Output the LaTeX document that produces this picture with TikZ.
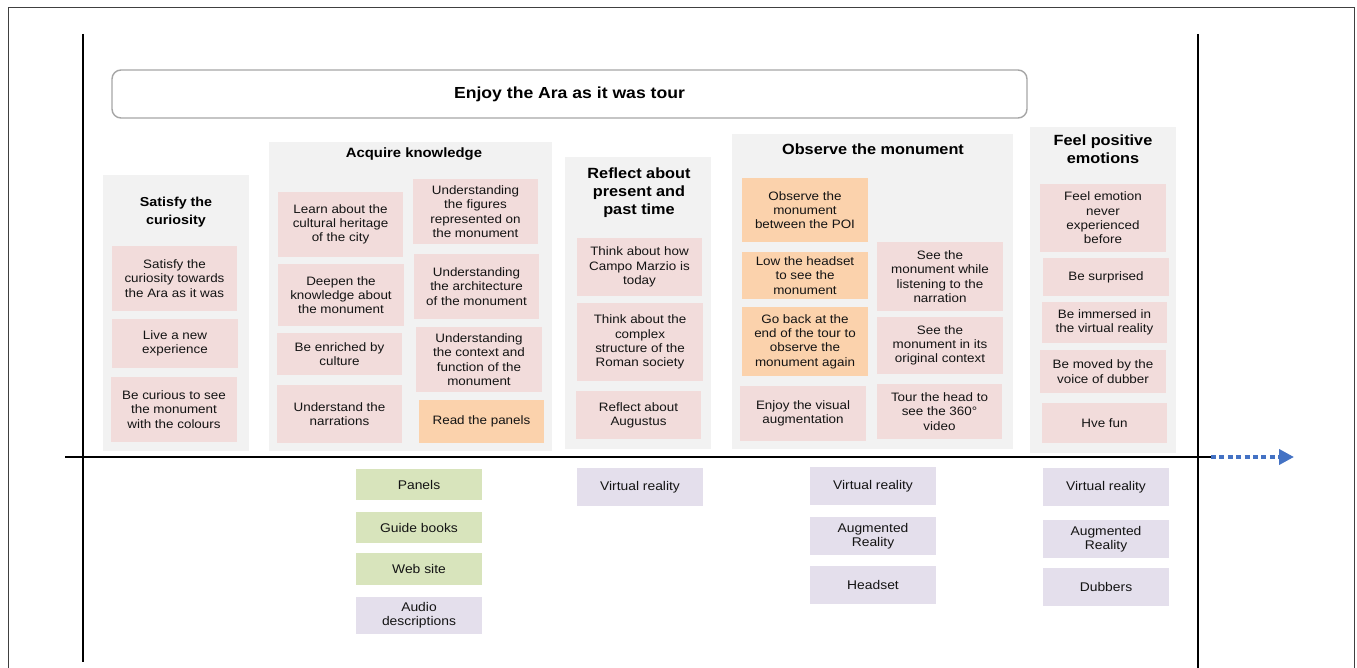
\documentclass[tikz,border=0pt]{standalone}
\usepackage{fontspec}
\setmainfont{Liberation Sans}[FakeStretch=1.1]
\usetikzlibrary{arrows.meta}

\definecolor{panelgray}{HTML}{F2F2F2}
\definecolor{cardpink}{HTML}{F2DCDB}
\definecolor{cardorange}{HTML}{FBD2AC}
\definecolor{toolgreen}{HTML}{D8E4BC}
\definecolor{toolpurple}{HTML}{E4DFEC}
\definecolor{arrowblue}{HTML}{4472C4}
\definecolor{framegray}{HTML}{404040}
\definecolor{titleborder}{HTML}{A6A6A6}
\definecolor{inkgray}{HTML}{141414}

\newcommand\cardfont{\fontsize{12.2}{14.3}\selectfont}
\newcommand\toolfont{\fontsize{12.6}{14.3}\selectfont}

% name, style, x1, y1, x2, y2, text
\newcommand\placebox[7]{%
  \node[#2, minimum width={(#5)-(#3)}, minimum height={(#6)-(#4)}]
    (#1) at ({((#3)+(#5))/2},{((#4)+(#6))/2}) {#7};}

\tikzset{
  base/.style={inner sep=0pt, outer sep=0pt, align=center, text=inkgray},
  panel/.style={base, fill=panelgray, draw=none},
  card/.style={base, fill=cardpink, draw=none, font=\cardfont},
  hotcard/.style={base, fill=cardorange, draw=none, font=\cardfont},
  gtool/.style={base, fill=toolgreen, draw=none, font=\toolfont},
  ptool/.style={base, fill=toolpurple, draw=none, font=\toolfont},
  heading/.style={base, text=black, font=\bfseries\fontsize{#1}{18}\selectfont},
  titlebox/.style={base, draw=titleborder, line width=1.4pt, rounded corners=9pt, fill=white,
    text=black, font=\bfseries\fontsize{16}{19}\selectfont},
  axis/.style={draw=black, line width=2pt},
  timeline/.style={draw=arrowblue, line width=4.5pt, dash pattern=on 5pt off 3.4pt,
    -{Triangle[length=15pt,width=15pt]}}
}

\begin{document}
\begin{tikzpicture}[x=1pt, y=-1pt]
\useasboundingbox (0,0) rectangle (1357,668);
\fill[white] (0,0) rectangle (1357,668);

% outer frame
\draw[framegray, line width=1pt] (8,668) -- (8,8) -- (1354,8) -- (1354,668);

% stage panels
\placebox{pSat}{panel}{103}{175}{249}{451}{}
\placebox{pAcq}{panel}{269}{142}{552}{451}{}
\placebox{pRef}{panel}{565}{157}{711}{449}{}
\placebox{pObs}{panel}{732}{134}{1013}{449}{}
\placebox{pFeel}{panel}{1030}{127}{1176}{453}{}

% title
\placebox{title}{titlebox}{112}{70}{1027}{118}{Enjoy the Ara as it was tour}

% headings
\node[heading=13] (hSat) at (176,212) {Satisfy the\\curiosity};
\node[heading=13.5] (hAcq) at (414,154) {Acquire knowledge};
\node[heading=14.8] (hRef) at (639,193) {Reflect about\\present and\\past time};
\node[heading=14.8] (hObs) at (873,149) {Observe the monument};
\node[heading=14.8] (hFeel) at (1103,149) {Feel positive\\emotions};

% satisfy the curiosity
\placebox{s1}{card}{112}{246}{237}{311}{Satisfy the\\curiosity towards\\the Ara as it was}
\placebox{s2}{card}{112}{319}{238}{368}{Live a new\\experience}
\placebox{s3}{card}{111}{377}{237}{442}{Be curious to see\\the monument\\with the colours}

% acquire knowledge
\placebox{a1}{card}{278}{192}{403}{257}{Learn about the\\cultural heritage\\of the city}
\placebox{a2}{card}{278}{264}{404}{326}{Deepen the\\knowledge about\\the monument}
\placebox{a3}{card}{277}{333}{402}{375}{Be enriched by\\culture}
\placebox{a4}{card}{277}{385}{402}{443}{Understand the\\narrations}
\placebox{a5}{card}{413}{179}{538}{244}{Understanding\\the figures\\represented on\\the monument}
\placebox{a6}{card}{414}{254}{539}{319}{Understanding\\the architecture\\of the monument}
\placebox{a7}{card}{416}{327}{542}{392}{Understanding\\the context and\\function of the\\monument}
\placebox{a8}{hotcard}{419}{400}{544}{443}{Read the panels}

% reflect about present and past time
\placebox{r1}{card}{577}{238}{702}{296}{Think about how\\Campo Marzio is\\today}
\placebox{r2}{card}{577}{303}{703}{381}{Think about the\\complex\\structure of the\\Roman society}
\placebox{r3}{card}{576}{391}{701}{439}{Reflect about\\Augustus}

% observe the monument
\placebox{o1}{hotcard}{742}{178}{868}{242}{Observe the\\monument\\between the POI}
\placebox{o2}{hotcard}{742}{252}{868}{299}{Low the headset\\to see the\\monument}
\placebox{o3}{hotcard}{742}{307}{868}{376}{Go back at the\\end of the tour to\\observe the\\monument again}
\placebox{o4}{card}{740}{386}{866}{441}{Enjoy the visual\\augmentation}
\placebox{o5}{card}{877}{242}{1003}{311}{See the\\monument while\\listening to the\\narration}
\placebox{o6}{card}{877}{317}{1003}{374}{See the\\monument in its\\original context}
\placebox{o7}{card}{877}{384}{1002}{439}{Tour the head to\\see the 360°\\video}

% feel positive emotions
\placebox{f1}{card}{1040}{184}{1166}{252}{Feel emotion\\never\\experienced\\before}
\placebox{f2}{card}{1043}{258}{1169}{296}{Be surprised}
\placebox{f3}{card}{1042}{302}{1167}{343}{Be immersed in\\the virtual reality}
\placebox{f4}{card}{1040}{350}{1166}{393}{Be moved by the\\voice of dubber}
\placebox{f5}{card}{1042}{403}{1167}{443}{Hve fun}

% touchpoints below the timeline
\placebox{t1}{gtool}{356}{469}{482}{500}{Panels}
\placebox{t2}{gtool}{356}{512}{482}{543}{Guide books}
\placebox{t3}{gtool}{356}{553}{482}{585}{Web site}
\placebox{t4}{ptool}{356}{597}{482}{634}{Audio\\descriptions}
\placebox{t5}{ptool}{577}{468}{703}{506}{Virtual reality}
\placebox{t6}{ptool}{810}{467}{936}{505}{Virtual reality}
\placebox{t7}{ptool}{810}{517}{936}{555}{Augmented\\Reality}
\placebox{t8}{ptool}{810}{566}{936}{604}{Headset}
\placebox{t9}{ptool}{1043}{468}{1169}{506}{Virtual reality}
\placebox{t10}{ptool}{1043}{520}{1169}{558}{Augmented\\Reality}
\placebox{t11}{ptool}{1043}{568}{1169}{606}{Dubbers}

% axes
\coordinate (leftTop) at (83,34);
\coordinate (leftBot) at (83,662);
\coordinate (rightTop) at (1198,34);
\coordinate (rightBot) at (1198,668);
\coordinate (lineStart) at (65,457);
\coordinate (lineEnd) at (1211,457);
\coordinate (timeEnd) at (1294,457);
\draw[axis] (leftTop) -- (leftBot);
\draw[axis] (rightTop) -- (rightBot);
\draw[axis] (lineStart) -- (lineEnd);
\draw[timeline] (lineEnd) -- (timeEnd);
\end{tikzpicture}
\end{document}
